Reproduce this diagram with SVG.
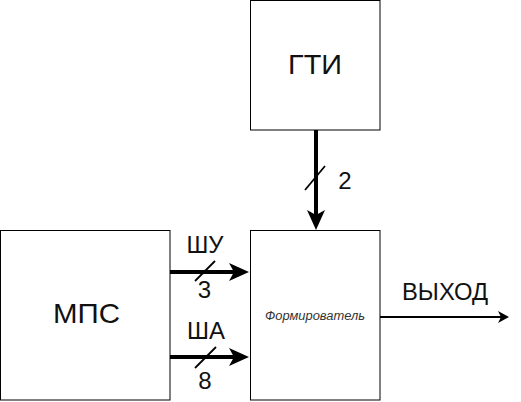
<svg xmlns="http://www.w3.org/2000/svg" width="521" height="402" viewBox="0 0 521 402">
  <style>
    .box { fill: #ffffff; stroke: #000000; stroke-width: 1; }
    .lbl { font-family: "Liberation Sans", Arial, sans-serif; fill: #111111; }
    .big { font-size: 28px; }
    .mid { font-size: 24px; }
    .small { font-size: 12px; font-style: italic; fill: #333333; }
    .bus { stroke: #000000; stroke-width: 4; fill: none; }
    .out { stroke: #000000; stroke-width: 1.8; fill: none; }
    .slash { stroke: #000000; stroke-width: 1.8; fill: none; }
  </style>
  <defs>
    <marker id="headBig" markerUnits="userSpaceOnUse" viewBox="0 0 20 18" markerWidth="20" markerHeight="18" refX="5" refY="9" orient="auto">
      <path d="M0,0 L20,9 L0,18 L5,9 Z" fill="#000000"/>
    </marker>
    <marker id="headSmall" markerUnits="userSpaceOnUse" viewBox="0 0 11 12" markerWidth="11" markerHeight="12" refX="3" refY="6" orient="auto">
      <path d="M0,0 L11,6 L0,12 L3,6 Z" fill="#000000"/>
    </marker>
  </defs>
  <rect width="521" height="402" fill="#ffffff"/>

  <g id="gti">
    <rect class="box" x="250.5" y="0.5" width="129.5" height="129.5"/>
    <text class="lbl big" x="315" y="74" text-anchor="middle" textLength="54" lengthAdjust="spacingAndGlyphs">ГТИ</text>
  </g>

  <g id="mps">
    <rect class="box" x="0.5" y="230.5" width="169.5" height="169.5"/>
    <text class="lbl big" x="86.5" y="323" text-anchor="middle" textLength="67" lengthAdjust="spacingAndGlyphs">МПС</text>
  </g>

  <g id="formirovatel">
    <rect class="box" x="250.5" y="230.5" width="129.5" height="169.5"/>
    <text class="lbl small" x="315" y="320" text-anchor="middle" textLength="100" lengthAdjust="spacingAndGlyphs">Формирователь</text>
  </g>

  <g id="connectors">
    <g id="edge-gti">
      <line class="bus" x1="316" y1="130" x2="316" y2="215" marker-end="url(#headBig)"/>
      <line class="slash" x1="305" y1="190" x2="325" y2="166"/>
      <text class="lbl mid" x="345" y="189" text-anchor="middle">2</text>
    </g>
    <g id="edge-shu">
      <line class="bus" x1="170" y1="272" x2="234" y2="272" marker-end="url(#headBig)"/>
      <line class="slash" x1="195" y1="281" x2="215" y2="261"/>
      <text class="lbl mid" x="205" y="253" text-anchor="middle" textLength="37" lengthAdjust="spacingAndGlyphs">ШУ</text>
      <text class="lbl mid" x="204.5" y="298" text-anchor="middle">3</text>
    </g>
    <g id="edge-sha">
      <line class="bus" x1="170" y1="357" x2="234" y2="357" marker-end="url(#headBig)"/>
      <line class="slash" x1="195" y1="368" x2="216" y2="347"/>
      <text class="lbl mid" x="206" y="339" text-anchor="middle" textLength="38" lengthAdjust="spacingAndGlyphs">ША</text>
      <text class="lbl mid" x="205" y="389" text-anchor="middle">8</text>
    </g>
    <g id="edge-out">
      <line class="out" x1="380" y1="317" x2="501" y2="317" marker-end="url(#headSmall)"/>
      <text class="lbl mid" x="445" y="300" text-anchor="middle" textLength="86" lengthAdjust="spacingAndGlyphs">ВЫХОД</text>
    </g>
  </g>
</svg>
